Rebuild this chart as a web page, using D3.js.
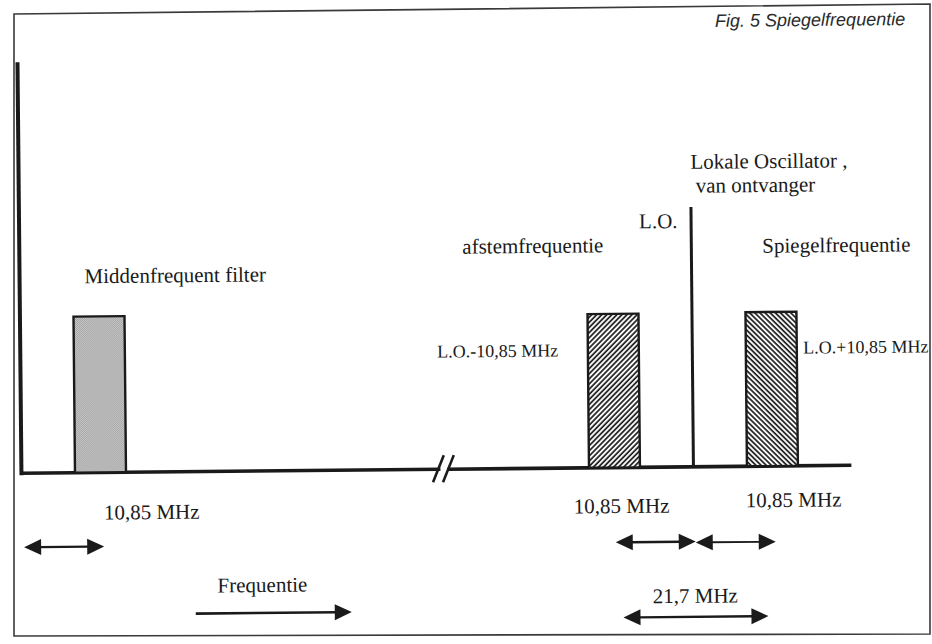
<!DOCTYPE html>
<html>
<head>
<meta charset="utf-8">
<script src="https://cdn.jsdelivr.net/npm/d3@7"></script>
<style>
  html, body { margin: 0; padding: 0; background: #fff; }
  svg { display: block; }
  .lbl { font-family: "Liberation Serif", "Times New Roman", serif; font-size: 21px; fill: #1a1a1a; }
  .small { font-size: 18px; }
  .fig { font-family: "Liberation Sans", Arial, sans-serif; font-style: italic; font-size: 18px; fill: #2a2a2a; }
</style>
</head>
<body>
<script>
// ---------- data ----------
const loFreq = 100;            // nominal local-oscillator frequency (MHz), axis is broken
const ifFreq = 10.85;          // intermediate frequency (MHz)
const bandWidth = 7;           // drawn width of each band (MHz)

const bandNames   = ["Middenfrequent filter", "afstemfrequentie", "Spiegelfrequentie"];
const bandCenters = [ifFreq, loFreq - ifFreq, loFreq + ifFreq];   // MHz
const bandLevels  = [38, 37.4, 37.5];                              // relative level (%)
const bandFills   = ["stipple", "hatchFwd", "hatchBack"];

const loLevel = 63.2;          // relative level of L.O. line (%)
const axisTop = 100;           // top of vertical axis (%)

const spanArrows = [           // [from MHz, to MHz, label]
  [0, ifFreq, "10,85 MHz"],
  [loFreq - ifFreq, loFreq, "10,85 MHz"],
  [loFreq, loFreq + ifFreq, "10,85 MHz"],
  [loFreq - ifFreq, loFreq + ifFreq, "21,7 MHz"]
];

// ---------- setup ----------
const W = 932, H = 644;
const svg = d3.select("body").append("svg").attr("width", W).attr("height", H);
const defs = svg.append("defs");

// stipple pattern
const st = defs.append("pattern").attr("id", "stipple").attr("patternUnits", "userSpaceOnUse")
  .attr("width", 2).attr("height", 2);
st.append("rect").attr("width", 2).attr("height", 2).attr("fill", "#dedede");
st.append("rect").attr("width", 1).attr("height", 1).attr("fill", "#8e8e8e");
st.append("rect").attr("x", 1).attr("y", 1).attr("width", 1).attr("height", 1).attr("fill", "#8e8e8e");

function hatch(id, angle) {
  const p = defs.append("pattern").attr("id", id).attr("patternUnits", "userSpaceOnUse")
    .attr("width", 3.6).attr("height", 10).attr("patternTransform", `rotate(${angle})`);
  p.append("rect").attr("width", 3.6).attr("height", 10).attr("fill", "#fff");
  p.append("line").attr("x1", 1).attr("x2", 1).attr("y1", 0).attr("y2", 10)
    .attr("stroke", "#1a1a1a").attr("stroke-width", 1.7);
}
hatch("hatchFwd", 45);
hatch("hatchBack", -45);

// frame (scan border)
svg.append("path")
  .attr("d", "M14,14 L930,4 L930,634 L14,636 Z")
  .attr("fill", "none").attr("stroke", "#3a3a3a").attr("stroke-width", 1.6);

// whole drawing slightly rotated like the scanned original
const g = svg.append("g").attr("transform", "rotate(-0.55,466,322)");

// broken frequency scale
const x = d3.scaleLinear()
  .domain([0, 57.5, loFreq - 33.8, loFreq + 21.7])
  .range([20, 439, 446, 850]);
const y = d3.scaleLinear().domain([0, 100]).range([469, 58]);

const ink = "#1a1a1a";

// vertical axis
g.append("line").attr("x1", x(0)).attr("x2", x(0)).attr("y1", y(axisTop)).attr("y2", y(0) + 2)
  .attr("stroke", ink).attr("stroke-width", 4);

// baseline (two segments around the break)
[[0, 57.5], [loFreq - 33.8, loFreq + 21.7]].forEach(([a, b]) => {
  g.append("line").attr("x1", x(a)).attr("x2", x(b)).attr("y1", y(0)).attr("y2", y(0))
    .attr("stroke", ink).attr("stroke-width", 3.6);
});
// break marks
const bx = (x(57.5) + x(loFreq - 33.8)) / 2;
[-6, 4].forEach(o => {
  g.append("line").attr("x1", bx + o - 5).attr("y1", y(0) + 13)
    .attr("x2", bx + o + 6).attr("y2", y(0) - 14)
    .attr("stroke", ink).attr("stroke-width", 2.6);
});

// bands
g.selectAll("rect.band").data(bandCenters).join("rect").attr("class", "band")
  .attr("x", d => x(d - bandWidth / 2))
  .attr("width", d => x(d + bandWidth / 2) - x(d - bandWidth / 2))
  .attr("y", (d, i) => y(bandLevels[i]))
  .attr("height", (d, i) => y(0) - y(bandLevels[i]))
  .attr("fill", (d, i) => `url(#${bandFills[i]})`)
  .attr("stroke", ink).attr("stroke-width", 2.4);

// L.O. line
g.append("line").attr("x1", x(loFreq)).attr("x2", x(loFreq)).attr("y1", y(loLevel)).attr("y2", y(0))
  .attr("stroke", ink).attr("stroke-width", 3);

// labels
function txt(t, px, py, cls) {
  g.append("text").attr("class", cls || "lbl").attr("x", px).attr("y", py).text(t);
}
txt(bandNames[0], 85, 279.5);
txt(bandNames[1], 463, 253.6);
txt(bandNames[2], 763, 255.6);
txt("L.O.", 640, 230);
txt("Lokale Oscillator ,", 692, 171);
txt("van ontvanger", 697, 194.8);
txt("L.O.-10,85 MHz", 437, 357.3, "lbl small");
txt("L.O.+10,85 MHz", 803, 356.8, "lbl small");

// arrow helper: line with filled triangular heads
const headL = 17, headH = 8;
function head(tipX, yy, dir) {   // dir = +1 pointing right, -1 pointing left
  g.append("path")
    .attr("d", `M${tipX},${yy} L${tipX - dir * headL},${yy - headH} L${tipX - dir * headL},${yy + headH} Z`)
    .attr("fill", ink);
}
function arrow(x1, x2, yy, both, sw) {
  g.append("line").attr("x1", both ? x1 + headL - 2 : x1).attr("x2", x2 - headL + 2)
    .attr("y1", yy).attr("y2", yy).attr("stroke", ink).attr("stroke-width", sw || 2.4);
  head(x2, yy, 1);
  if (both) head(x1, yy, -1);
}

// span arrows with labels
const arrowY = [543, 543.8, 544.6, 619];
const arrowInset = [[2, -3], [0.6, -1.6], [1.6, -2.6], [7.6, 5.4]];
const labelPos = [[102, 516], [572, 514.5], [744, 510], [650, 605]];
spanArrows.forEach(([a, b, t], i) => {
  arrow(x(a) + arrowInset[i][0], x(b) - arrowInset[i][1], arrowY[i], true, i === 2 ? 1.8 : 2.4);
  txt(t, labelPos[i][0], labelPos[i][1]);
});

// frequency direction arrow
arrow(193, 349, 611, false, 2.6);
txt("Frequentie", 215, 590);

// figure caption
g.append("text").attr("class", "fig").attr("x", 908).attr("y", 29.3)
  .attr("text-anchor", "end").text("Fig. 5 Spiegelfrequentie");
</script>
</body>
</html>
